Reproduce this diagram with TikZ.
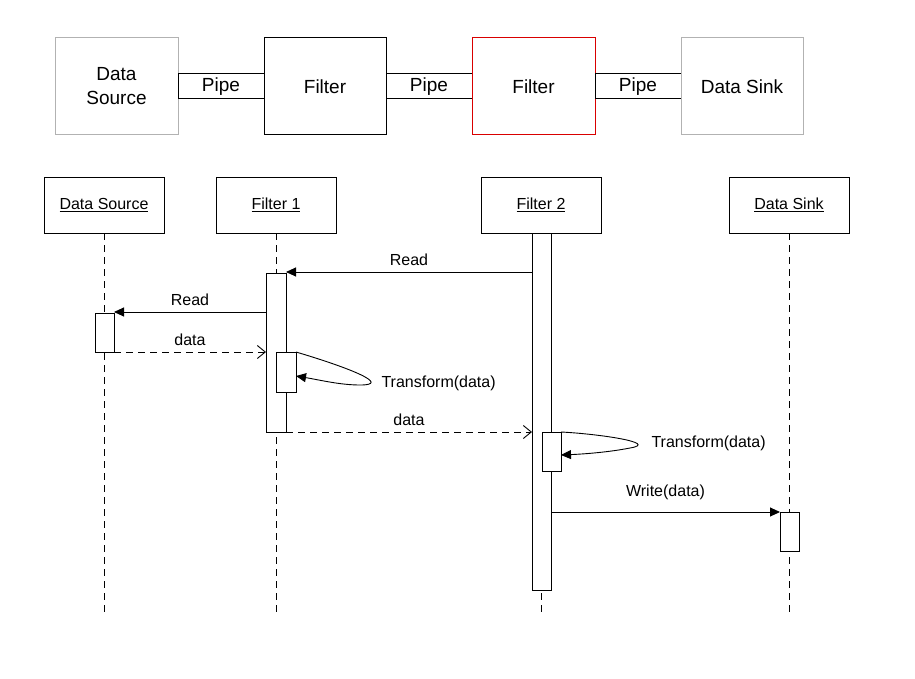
\documentclass[tikz,border=0pt]{standalone}
\usepackage{fontspec}
\setmainfont{Liberation Sans}
\usetikzlibrary{arrows.meta}
\begin{document}
\begin{tikzpicture}[x=1pt,y=-1pt,
  box/.style={draw,line width=1pt,minimum width=#1,minimum height=97pt,align=center,font=\fontsize{19}{24}\selectfont,inner sep=0},
  pipe/.style={draw,line width=1pt,minimum width=86pt,minimum height=25pt,font=\fontsize{19}{22}\selectfont,inner sep=0},
  head/.style={draw,line width=0.8pt,minimum width=120pt,minimum height=56pt,font=\fontsize{16}{19}\selectfont,inner sep=0},
  act/.style={draw,fill=white,line width=0.8pt},
  life/.style={dash pattern=on 7pt off 5pt,line width=0.8pt},
  msg/.style={line width=0.9pt,-{Triangle[length=10pt,width=9pt]}},
  ret/.style={dash pattern=on 7pt off 5pt,line width=0.9pt,-{Straight Barb[length=8pt,width=13pt]}},
  lbl/.style={font=\fontsize{16}{19}\selectfont}]
\useasboundingbox (0,0) rectangle (915,679);
% top pipeline
\node[box=123pt,draw=gray!60] (ds) at (116.5,86.5) {Data\\Source};
\node[pipe] (p1) at (221,86.5) {Pipe};
\node[box=122pt] (f1) at (325,86.5) {Filter};
\node[pipe] (p2) at (429,86.5) {Pipe};
\node[box=123pt,draw=red!85!black] (f2) at (533.5,86.5) {Filter};
\node[pipe] (p3) at (638,86.5) {Pipe};
\node[box=122pt,draw=gray!60] (dk) at (742,86.5) {Data Sink};
% heads
\node[head] (h1) at (104,205) {\underline{Data Source}};
\node[head] (h2) at (276,205) {\underline{Filter 1}};
\node[head] (h3) at (541,205) {\underline{Filter 2}};
\node[head] (h4) at (789,205) {\underline{Data Sink}};
\coordinate (e1) at (104,615); \coordinate (e2) at (276,615);
\coordinate (e3) at (541,615); \coordinate (e4) at (789,615);
\draw[life] (h1.south) -- (e1);
\draw[life] (h2.south) -- (e2);
\draw[life] (h3.south) -- (e3);
\draw[life] (h4.south) -- (e4);
% activations
\draw[act] (532,233) rectangle (551,590);
\draw[act] (266,273) rectangle (286,432);
\draw[act] (276,352) rectangle (296,392);
\draw[act] (95,313) rectangle (114,352);
\draw[act] (542,432) rectangle (561,471);
\draw[act] (780,512) rectangle (799,551);
% messages
\draw[msg] (532,272) -- (286,272) node[lbl,midway,above=3pt] {Read};
\draw[msg] (266,312) -- (114,312) node[lbl,midway,above=3pt] {Read};
\draw[ret] (114,352) -- (266,352) node[lbl,midway,above=3pt] {data};
\draw[msg] (296,352) .. controls (350,368) and (392,385) .. (360,385) .. controls (340,385) and (320,380) .. (296,376);
\node[lbl,anchor=west] at (378,383) {Transform(data)};
\draw[ret] (286,432) -- (532,432) node[lbl,midway,above=3pt] {data};
\draw[msg] (561,432) .. controls (600,434) and (660,443) .. (630,448) .. controls (610,452) and (585,454) .. (561,455);
\node[lbl,anchor=west] at (648,443) {Transform(data)};
\draw[msg] (551,512) -- (780,512) node[lbl,midway,above=8pt] {Write(data)};
\end{tikzpicture}
\end{document}
